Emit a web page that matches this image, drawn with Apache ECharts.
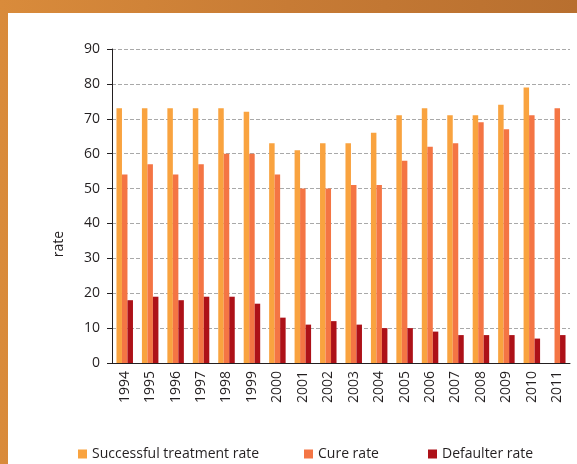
<!DOCTYPE html>
<html>
<head>
<meta charset="utf-8">
<script src="https://cdn.jsdelivr.net/npm/echarts@6/dist/echarts.min.js"></script>
<style>
  html, body { margin: 0; padding: 0; }
  body {
    width: 577px; height: 464px; position: relative; overflow: hidden;
    background: linear-gradient(90deg, #d98b3b 0%, #c77b35 50%, #b86f2f 100%);
  }
  .paper { position: absolute; left: 8px; top: 13px; right: 0; bottom: 0; background: #fff; }
  #chart { position: absolute; left: 0; top: 0; width: 577px; height: 464px; }
</style>
</head>
<body>
<div class="paper"></div>
<div id="chart"></div>
<script>
// data
const years = ['1994', '1995', '1996', '1997', '1998', '1999', '2000', '2001', '2002',
  '2003', '2004', '2005', '2006', '2007', '2008', '2009', '2010', '2011'];
const successRate = [73, 73, 73, 73, 73, 72, 63, 61, 63, 63, 66, 71, 73, 71, 71, 74, 79, null];
const cureRate = [54, 57, 54, 57, 60, 60, 54, 50, 50, 51, 51, 58, 62, 63, 69, 67, 71, 73];
const defaulterRate = [18, 19, 18, 19, 19, 17, 13, 11, 12, 11, 10, 10, 9, 8, 8, 8, 7, 8];
const yTicks = [0, 10, 20, 30, 40, 50, 60, 70, 80, 90];

const seriesNames = ['Successful treatment rate', 'Cure rate', 'Defaulter rate'];
const colors = ['#f9a33f', '#f47544', '#ad1118'];
const legendLeft = [73, 299, 423];

const font = 'Open Sans';
const ink = '#231f20';

let chart = echarts.init(document.getElementById('chart'));

let legends = seriesNames.map((n, i) => ({
  data: [n],
  left: legendLeft[i],
  top: 442,
  icon: 'rect',
  itemWidth: 9,
  itemHeight: 9,
  itemGap: 5,
  selectedMode: false,
  textStyle: { fontFamily: font, fontSize: 14, color: ink }
}));

let option = {
  animation: false,
  color: colors,
  legend: legends,
  grid: { left: 112, right: 7, top: 49, bottom: 101 },
  graphic: [{
    type: 'text',
    x: 59,
    y: 244,
    rotation: Math.PI / 2,
    style: {
      text: 'rate', fontFamily: font, fontSize: 14, fill: ink,
      align: 'center', verticalAlign: 'middle'
    }
  }],
  xAxis: {
    type: 'category',
    data: years,
    axisLine: { lineStyle: { color: ink, width: 1 } },
    axisTick: { length: 5, lineStyle: { color: ink } },
    axisLabel: {
      rotate: 90, margin: 8, interval: 0,
      fontFamily: font, fontSize: 14, color: ink
    }
  },
  yAxis: {
    type: 'value',
    min: yTicks[0],
    max: yTicks[yTicks.length - 1],
    interval: 10,
    axisLine: { show: true, lineStyle: { color: ink, width: 1 } },
    axisTick: { show: true, length: 5, lineStyle: { color: ink } },
    axisLabel: { margin: 12, fontFamily: font, fontSize: 14, color: ink },
    splitLine: { lineStyle: { color: '#a9a9a9', type: [4, 2], width: 1 } }
  },
  series: [successRate, cureRate, defaulterRate].map((d, i) => ({
    name: seriesNames[i],
    type: 'bar',
    data: d,
    barWidth: 5.5,
    barGap: '0%',
    itemStyle: { color: colors[i] }
  }))
};

chart.setOption(option);
</script>
</body>
</html>
